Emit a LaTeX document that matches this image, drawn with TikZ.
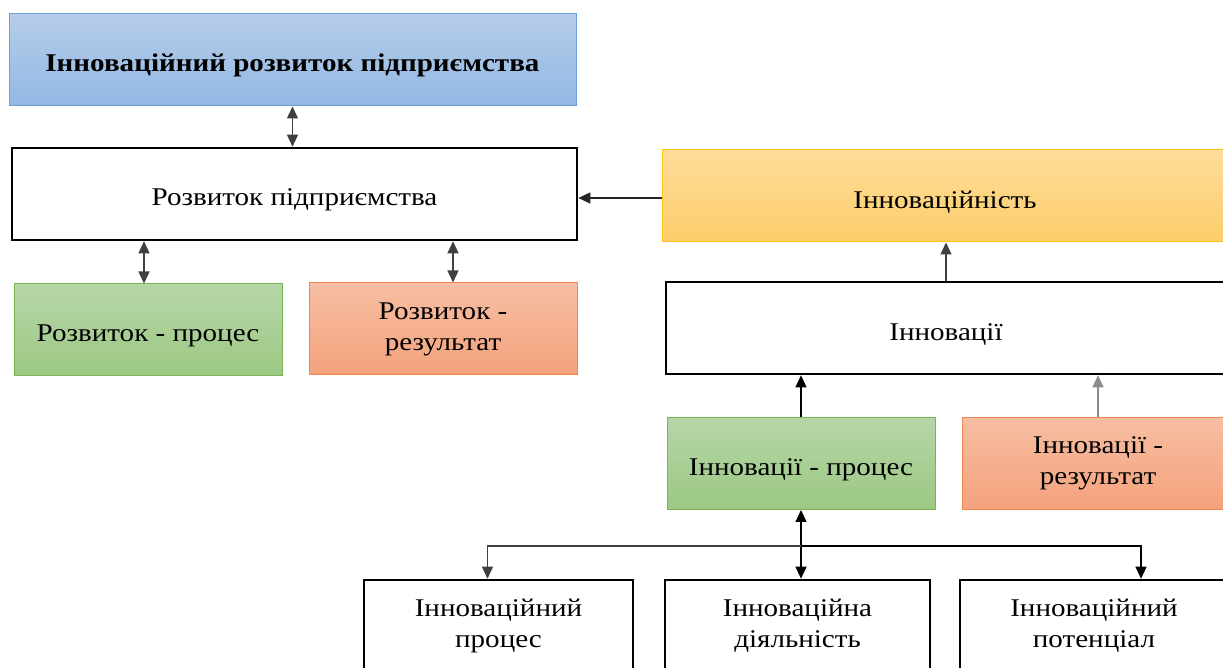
\documentclass[tikz,border=0pt]{standalone}
\usepackage{fontspec}
\setmainfont{Liberation Serif}[FakeStretch=1.14]
\usetikzlibrary{arrows.meta,shapes}

\definecolor{blueTop}{RGB}{181,205,233}
\definecolor{blueBot}{RGB}{146,184,228}
\definecolor{blueLine}{RGB}{110,160,215}
\definecolor{greenTop}{RGB}{182,214,168}
\definecolor{greenBot}{RGB}{156,200,131}
\definecolor{greenLine}{RGB}{120,180,85}
\definecolor{orangeTop}{RGB}{247,190,163}
\definecolor{orangeBot}{RGB}{244,162,124}
\definecolor{orangeLine}{RGB}{240,135,80}
\definecolor{yellowTop}{RGB}{254,220,154}
\definecolor{yellowBot}{RGB}{253,206,106}
\definecolor{yellowLine}{RGB}{255,195,20}

\begin{document}
\begin{tikzpicture}[x=1pt,y=1pt]
    \tikzset{caja/.style = {shape=rectangle,align=center,inner sep=0pt,minimum height=92pt,
        font=\fontsize{25.5}{31}\selectfont,execute at begin node={\rule{0pt}{29pt}}}}
    \tikzset{blanca/.style = {caja,draw,line width=2.6pt,fill=white}}
    \tikzset{azul/.style = {caja,draw=blueLine,line width=1pt,top color=blueTop,bottom color=blueBot}}
    \tikzset{verde/.style = {caja,draw=greenLine,line width=1pt,top color=greenTop,bottom color=greenBot}}
    \tikzset{naranja/.style = {caja,draw=orangeLine,line width=1pt,top color=orangeTop,bottom color=orangeBot}}
    \tikzset{amarilla/.style = {caja,draw=yellowLine,line width=1pt,top color=yellowTop,bottom color=yellowBot}}

    \tikzset{flecha/.style = {-{Triangle[length=12pt,width=11pt]},line width=1.2pt}}
    \tikzset{doble/.style = {{Triangle[length=12pt,width=11pt]}-{Triangle[length=12pt,width=11pt]},line width=1.2pt}}

    \useasboundingbox (0,0) rectangle (1223,668);
    \clip (0,0) rectangle (1223,668);

    \node[azul,minimum width=567pt] (InnRozvytok) at (292.5,608) {\bfseries Інноваційний розвиток підприємства};
    \node[blanca,minimum width=565pt] (Rozvytok) at (294.5,474) {Розвиток підприємства};
    \node[verde,minimum width=268pt] (RozProces) at (148,338) {Розвиток - процес};
    \node[naranja,minimum width=268pt] (RozRezult) at (443,339) {Розвиток -\\результат};

    \node[amarilla,minimum width=566pt] (Innovatsiinist) at (945,472) {Інноваційність};
    \node[blanca,minimum width=560pt] (Innovatsii) at (946,340) {Інновації};
    \node[verde,minimum width=268pt] (InnProces) at (801,204.5) {Інновації - процес};
    \node[naranja,minimum width=272pt] (InnRezult) at (1098,204.5) {Інновації -\\результат};

    \node[blanca,minimum width=269pt] (InnProcesB) at (498.5,42) {Інноваційний\\процес};
    \node[blanca,minimum width=265pt] (InnDiyal) at (797.5,42) {Інноваційна\\діяльність};
    \node[blanca,minimum width=268pt] (InnPotent) at (1094,42) {Інноваційний\\потенціал};

    \draw[doble,black!75] (InnRozvytok.south) -- (InnRozvytok.south |- Rozvytok.north);
    \draw[doble,black!75] ([xshift=-4pt]RozProces.north) -- ([xshift=-4pt]RozProces.north |- Rozvytok.south);
    \draw[doble,black!75] ([xshift=10pt]RozRezult.north) -- ([xshift=10pt]RozRezult.north |- Rozvytok.south);

    \draw[flecha,black!85] ([yshift=-2pt]Innovatsiinist.west) -- ([yshift=-2pt]Innovatsiinist.west -| Rozvytok.east);
    \draw[flecha,black!75] (Innovatsii.north) -- (Innovatsii.north |- Innovatsiinist.south);
    \draw[flecha] (InnProces.north) -- (InnProces.north |- Innovatsii.south);
    \draw[flecha,black!45] (InnRezult.north) -- (InnRezult.north |- Innovatsii.south);

    \draw[doble] (InnProces.south) -- (InnProces.south |- InnDiyal.north);

    \coordinate (rama) at (801,122);
    \draw[flecha,black!75] (rama) -| ([xshift=-11pt]InnProcesB.north);
    \draw[flecha] (rama) -| ([xshift=47pt]InnPotent.north);
\end{tikzpicture}
\end{document}
